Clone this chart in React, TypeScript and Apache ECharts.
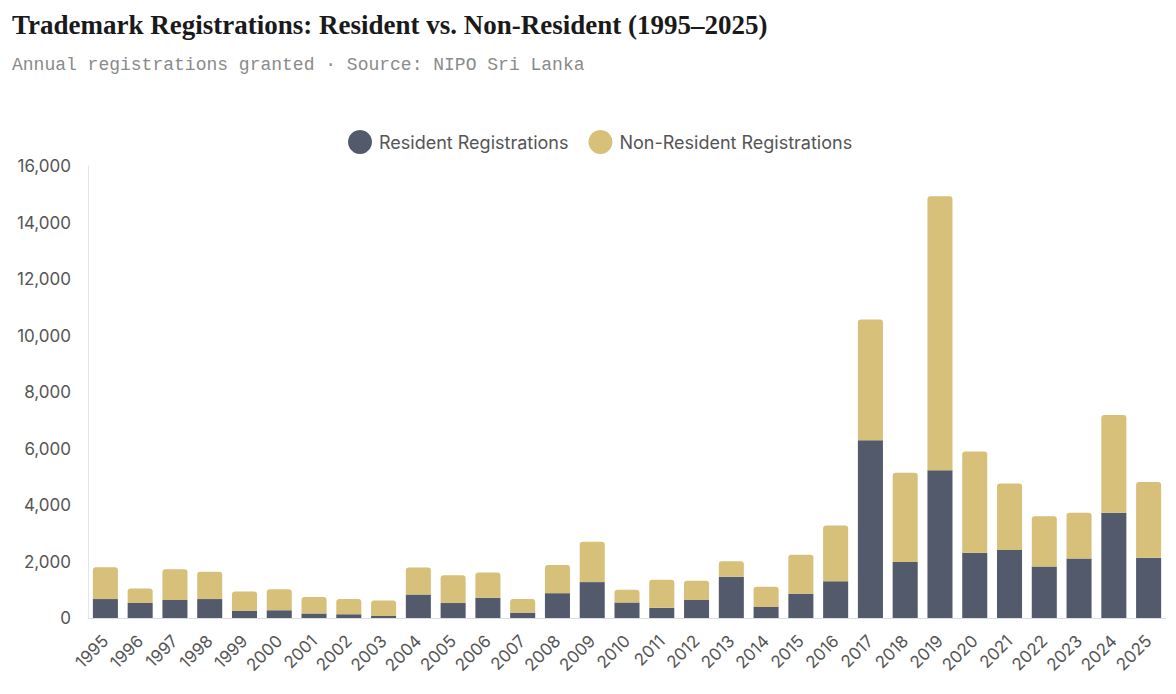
import React, { useEffect, useRef } from "react";
import * as echarts from "echarts";

const years = [
  "1995", "1996", "1997", "1998", "1999", "2000", "2001", "2002", "2003", "2004",
  "2005", "2006", "2007", "2008", "2009", "2010", "2011", "2012", "2013", "2014",
  "2015", "2016", "2017", "2018", "2019", "2020", "2021", "2022", "2023", "2024", "2025",
];

// Totals of both groups per year
const totalRegistrations = [
  1800, 1040, 1730, 1640, 940, 1020, 740, 670, 620, 1790,
  1510, 1610, 670, 1880, 2700, 1000, 1350, 1320, 2010, 1110,
  2240, 3270, 10570, 5140, 14930, 5890, 4760, 3600, 3730, 7190, 4810,
];

const residentRegistrations = [
  670, 530, 640, 670, 250, 270, 160, 130, 70, 830,
  530, 720, 190, 880, 1270, 550, 360, 640, 1460, 390,
  860, 1300, 6290, 1980, 5230, 2310, 2410, 1820, 2110, 3730, 2130,
];

const nonResidentRegistrations = totalRegistrations.map(
  (t, i) => t - residentRegistrations[i]
);

const RESIDENT_COLOR = "#525a6c";
const NON_RESIDENT_COLOR = "#d6c07a";

export default function App() {
  const ref = useRef<HTMLDivElement>(null);

  useEffect(() => {
    document.body.style.margin = "0";
    if (!ref.current) return;
    const chart = echarts.init(ref.current, null, { renderer: "svg" });
    chart.setOption({
      animation: false,
      backgroundColor: "#ffffff",
      title: [
        {
          text: "Trademark Registrations: Resident vs. Non-Resident (1995–2025)",
          left: 12,
          top: 11,
          padding: 0,
          textStyle: {
            fontFamily: "Liberation Serif",
            fontWeight: "bold",
            fontSize: 27,
            color: "#1a1a1a",
          },
        },
        {
          text: "Annual registrations granted · Source: NIPO Sri Lanka",
          left: 12,
          top: 56,
          padding: 0,
          textStyle: {
            fontFamily: "Liberation Mono",
            fontWeight: "normal",
            fontSize: 18,
            color: "#8a8a8a",
          },
        },
      ],
      legend: {
        top: 125,
        left: 343,
        icon: "circle",
        itemWidth: 24,
        itemHeight: 24,
        itemGap: 20,
        textStyle: {
          fontFamily: "Inter",
          fontSize: 18,
          color: "#555",
          padding: [0, 0, 0, 2],
        },
        data: ["Resident Registrations", "Non-Resident Registrations"],
      },
      grid: {
        left: 88,
        right: 10,
        top: 166,
        bottom: 76,
        containLabel: false,
      },
      xAxis: {
        type: "category",
        data: years,
        axisLine: { lineStyle: { color: "#dcdde0" } },
        axisTick: { show: false },
        axisLabel: {
          rotate: 45,
          fontFamily: "Inter",
          fontSize: 17,
          color: "#555",
          margin: 20,
          interval: 0,
        },
      },
      yAxis: {
        type: "value",
        min: 0,
        max: 16000,
        interval: 2000,
        axisLine: { show: true, lineStyle: { color: "#e4e5e8" } },
        axisTick: { show: false },
        splitLine: { show: false },
        axisLabel: {
          fontFamily: "Inter",
          fontSize: 17,
          color: "#555",
          margin: 17,
          formatter: (v: number) => v.toLocaleString("en-US"),
        },
      },
      series: [
        {
          name: "Resident Registrations",
          type: "bar",
          stack: "total",
          barCategoryGap: "28%",
          itemStyle: { color: RESIDENT_COLOR },
          data: residentRegistrations,
        },
        {
          name: "Non-Resident Registrations",
          type: "bar",
          stack: "total",
          barCategoryGap: "28%",
          itemStyle: { color: NON_RESIDENT_COLOR, borderRadius: [3, 3, 0, 0] },
          data: nonResidentRegistrations,
        },
      ],
    });
    return () => chart.dispose();
  }, []);

  return <div ref={ref} style={{ width: 1176, height: 694 }} />;
}
